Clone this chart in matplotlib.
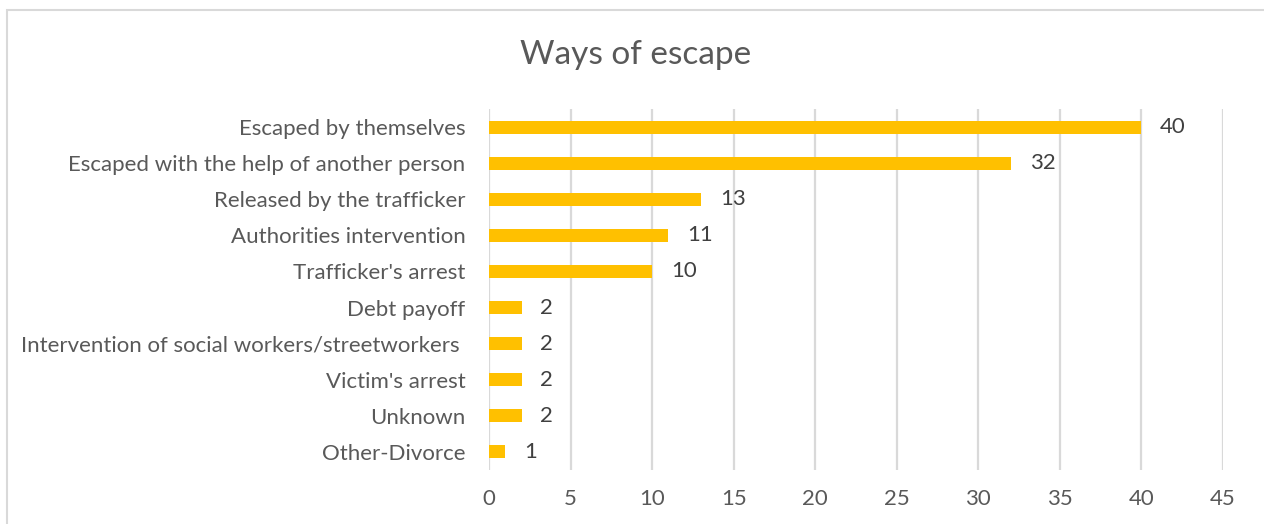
import matplotlib
matplotlib.use('Agg')
import matplotlib.pyplot as plt
from matplotlib.patches import Rectangle

categories = ['Escaped by themselves', 'Escaped with the help of another person',
              'Released by the trafficker', 'Authorities intervention',
              "Trafficker's arrest", 'Debt payoff',
              'Intervention of social workers/streetworkers ',
              "Victim's arrest", 'Unknown', 'Other-Divorce']
values = [40, 32, 13, 11, 10, 2, 2, 2, 2, 1]
xticks = [0, 5, 10, 15, 20, 25, 30, 35, 40, 45]

plt.rcParams['font.family'] = ['Lato', 'DejaVu Sans']

fig = plt.figure(figsize=(12.64, 5.24), dpi=100)
ax = fig.add_axes([489 / 1264, 54 / 524, 734 / 1264, 361 / 524])

# outer chart border (top/left visible)
fig.patches.append(Rectangle((7 / 1264, -0.2), 1.2, 1.2 - 10 / 524,
                             transform=fig.transFigure, fill=False,
                             edgecolor='#d9d9d9', linewidth=1.5))

y = list(range(len(categories)))
ax.barh(y, values, height=0.36, color='#ffc000', zorder=3)
for yi, v in zip(y, values):
    ax.text(v + 1.15, yi, str(v), va='center', ha='left', fontsize=16, color='#404040')

ax.set_ylim(len(categories) - 0.5, -0.5)
ax.set_xlim(0, 45)
ax.set_yticks(y)
ax.set_yticklabels(categories, fontsize=16, color='#595959')
ax.set_xticks(xticks)
ax.set_xticklabels([str(t) for t in xticks], fontsize=16, color='#595959')
ax.tick_params(length=0)
ax.tick_params(axis='y', pad=17)
ax.tick_params(axis='x', pad=14)
ax.grid(axis='x', color='#d9d9d9', linewidth=1.6, zorder=0)
for s in ax.spines.values():
    s.set_visible(False)

fig.text(636 / 1264, 1 - 55 / 524, 'Ways of escape', ha='center', va='center',
         fontsize=24, color='#595959')

fig.savefig('out.png', dpi=100)
